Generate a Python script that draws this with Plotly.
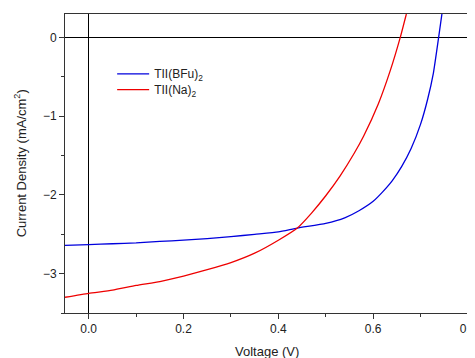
import plotly.graph_objects as go

blue_v = [-0.05, 0.0, 0.05, 0.1, 0.15, 0.2, 0.25, 0.3, 0.35, 0.4, 0.44, 0.5, 0.54, 0.57, 0.6,
          0.62, 0.64, 0.66, 0.68, 0.70, 0.715, 0.727, 0.738, 0.745]
blue_j = [-2.64, -2.63, -2.62, -2.61, -2.59, -2.575, -2.555, -2.53, -2.50, -2.47, -2.42, -2.36, -2.29,
          -2.20, -2.08, -1.96, -1.82, -1.64, -1.41, -1.10, -0.78, -0.45, 0.0, 0.3]

red_v = [-0.05, 0.0, 0.05, 0.1, 0.15, 0.2, 0.25, 0.3, 0.35, 0.4, 0.44, 0.47, 0.5, 0.53, 0.56,
         0.58, 0.611, 0.636, 0.657, 0.670]
red_j = [-3.30, -3.25, -3.21, -3.15, -3.10, -3.03, -2.95, -2.86, -2.74, -2.575, -2.42, -2.23, -2.01,
         -1.76, -1.47, -1.25, -0.84, -0.42, 0.0, 0.3]

names = ["TII(BFu)<sub>2</sub>", "TII(Na)<sub>2</sub>"]
x_title = "Voltage (V)"
y_title = "Current Density (mA/cm<sup>2</sup>)"

fig = go.Figure()
fig.add_trace(go.Scatter(x=blue_v, y=blue_j, mode="lines", name=names[0], legend="legend",
                         line=dict(color="#0000dd", width=1.3, shape="spline", smoothing=0.5)))
fig.add_trace(go.Scatter(x=red_v, y=red_j, mode="lines", name=names[1], legend="legend2",
                         line=dict(color="#ee0000", width=1.3, shape="spline", smoothing=0.5)))

axis_common = dict(showline=True, linecolor="#333333", linewidth=1, mirror=True,
                   showgrid=False, ticks="outside", ticklen=5, tickcolor="#333333",
                   zeroline=True, zerolinecolor="black", zerolinewidth=1, automargin=False,
                   ticklabeloverflow="allow",
                   tickfont=dict(family="Liberation Sans, Arial", size=12, color="#222222"))

leg_common = dict(xanchor="left", yanchor="middle", bgcolor="rgba(0,0,0,0)",
                  font=dict(size=12, color="#222222"), itemwidth=32)

fig.update_layout(
    width=475, height=350,
    margin=dict(l=57, r=15, t=6, b=45),
    plot_bgcolor="white", paper_bgcolor="white",
    font=dict(family="Liberation Sans, Arial", size=12, color="#222222"),
    xaxis=dict(range=[-0.05, 0.8], tickvals=[0.0, 0.2, 0.4, 0.6, 0.8],
               ticktext=["0.0", "0.2", "0.4", "0.6", "0.8"],
               minor=dict(ticks="outside", ticklen=3, dtick=0.1, tick0=0, tickcolor="#333333"),
               **axis_common),
    yaxis=dict(range=[-3.5, 0.3], tickvals=[0, -1, -2, -3],
               minor=dict(ticks="outside", ticklen=3, dtick=0.5, tick0=0, tickcolor="#333333"),
               **axis_common),
    legend=dict(x=0.117, y=0.80, **leg_common),
    legend2=dict(x=0.117, y=0.747, **leg_common),
    showlegend=True,
    annotations=[
        dict(text=x_title, xref="paper", yref="paper", x=0.5, y=-0.098, xanchor="center",
             yanchor="top", showarrow=False, font=dict(size=13, color="#222222")),
        dict(text=y_title, xref="paper", yref="paper", x=-0.112, y=0.5, xanchor="center",
             yanchor="middle", textangle=-90, showarrow=False, font=dict(size=13, color="#222222")),
    ],
)

fig.write_html("out.html")
